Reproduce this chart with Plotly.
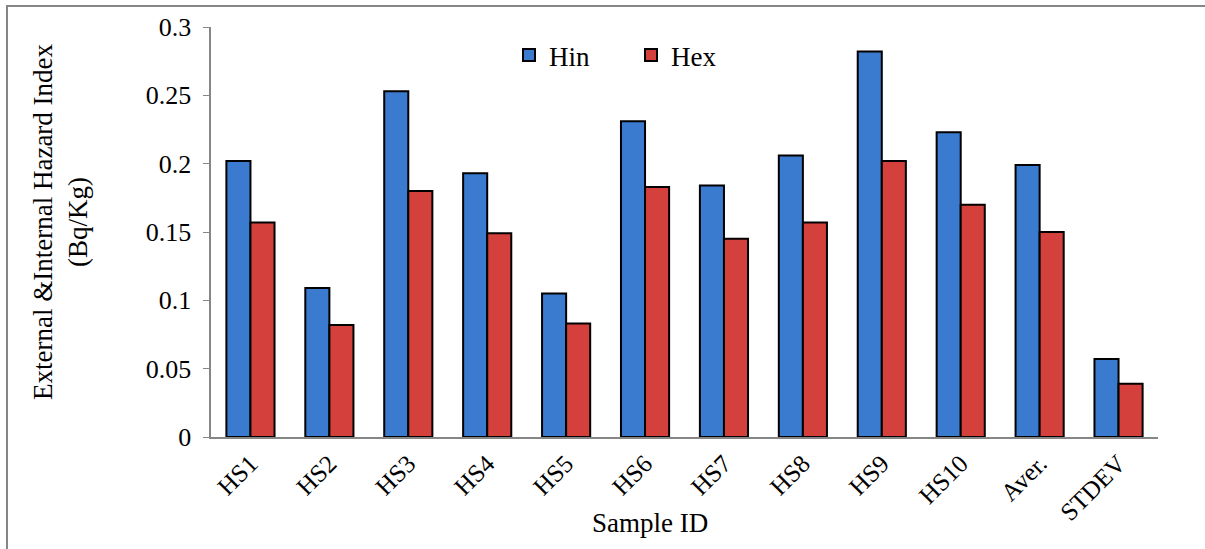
import plotly.graph_objects as go

categories = ["HS1", "HS2", "HS3", "HS4", "HS5", "HS6", "HS7", "HS8", "HS9", "HS10", "Aver.", "STDEV"]
hin = [0.202, 0.109, 0.253, 0.193, 0.105, 0.231, 0.184, 0.206, 0.282, 0.223, 0.199, 0.057]
hex_ = [0.157, 0.082, 0.180, 0.149, 0.083, 0.183, 0.145, 0.157, 0.202, 0.170, 0.150, 0.039]
y_ticks = [0, 0.05, 0.1, 0.15, 0.2, 0.25, 0.3]
y_tick_labels = ["0", "0.05", "0.1", "0.15", "0.2", "0.25", "0.3"]

FONT = "Liberation Serif"
W, H = 1205, 549
L, R, T, B = 211, 47, 27, 112
pw, ph = W - L - R, H - T - B

def px_x(x):
    return (x - L) / pw

def px_y(y):
    return (H - B - y) / ph

fig = go.Figure()
fig.add_trace(go.Bar(name="Hin", x=categories, y=hin,
                     marker=dict(color="#3b7bcf", line=dict(color="black", width=2))))
fig.add_trace(go.Bar(name="Hex", x=categories, y=hex_,
                     marker=dict(color="#d4403b", line=dict(color="black", width=2))))

fig.update_layout(
    width=W, height=H,
    margin=dict(l=L, r=R, t=T, b=B, autoexpand=False),
    paper_bgcolor="white", plot_bgcolor="white",
    barmode="group", bargap=0.39, bargroupgap=0,
    font=dict(family=FONT, size=27, color="black"),
    legend=dict(orientation="h", x=px_x(509), y=px_y(31), xanchor="left", yanchor="top",
                font=dict(family=FONT, size=27, color="black"), entrywidth=77,
                bgcolor="rgba(0,0,0,0)"),
    xaxis=dict(showline=True, linecolor="#868686", linewidth=2, ticks="", showgrid=False,
               tickangle=-45, tickfont=dict(family=FONT, size=25, color="black"), automargin=False),
    yaxis=dict(range=[0, 0.3], tickvals=y_ticks,
               ticktext=[t + "\u00a0" for t in y_tick_labels], showline=True,
               linecolor="#868686", linewidth=2, ticks="outside", ticklen=6, tickcolor="#868686",
               showgrid=False, zeroline=False, tickfont=dict(family=FONT, size=26, color="black"),
               automargin=False),
    annotations=[
        dict(text="External &Internal Hazard Index<br>(Bq/Kg)", textangle=-90, showarrow=False,
             xref="paper", yref="paper", x=px_x(60), y=px_y(222), xanchor="center", yanchor="middle",
             font=dict(family=FONT, size=27, color="black")),
        dict(text="Sample ID", showarrow=False, xref="paper", yref="paper",
             x=px_x(650), y=px_y(523), xanchor="center", yanchor="middle",
             font=dict(family=FONT, size=27, color="black")),
    ],
    shapes=[dict(type="rect", xref="paper", yref="paper",
                 x0=px_x(7), x1=px_x(1215), y0=px_y(560), y1=px_y(6),
                 line=dict(color="#868686", width=2), fillcolor="rgba(0,0,0,0)", layer="below")],
)

fig.write_html("out.html")
